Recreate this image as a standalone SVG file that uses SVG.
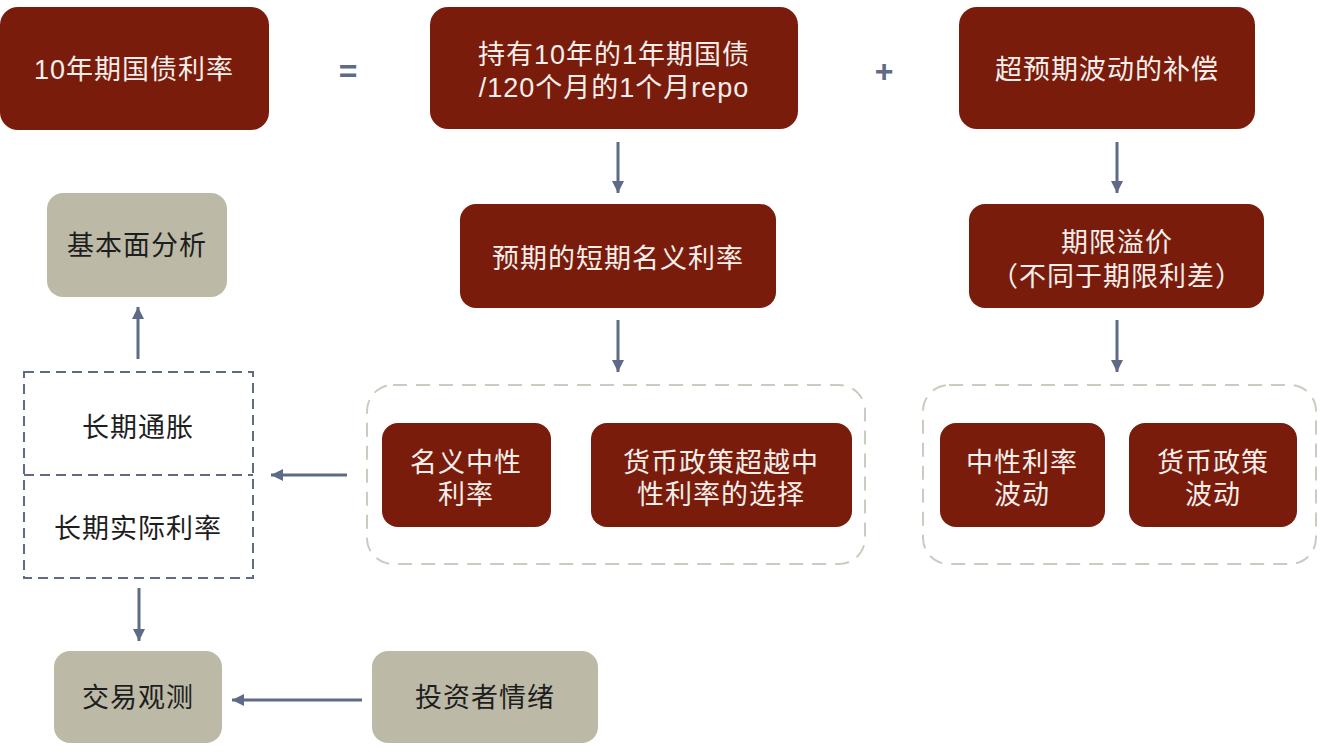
<svg xmlns="http://www.w3.org/2000/svg" width="1320" height="753" viewBox="0 0 1320 753">
<defs>
<style>
.red{fill:#7a1c0b;}
.gray{fill:#bcbaa6;}
.tw{font-family:"Liberation Sans","Noto Sans CJK SC",sans-serif;font-size:27px;fill:#f6eeea;text-anchor:middle;letter-spacing:1px;}
.tb{font-family:"Liberation Sans","Noto Sans CJK SC",sans-serif;font-size:27px;fill:#1e1e1e;text-anchor:middle;letter-spacing:1px;}
.op{font-family:"Liberation Sans",sans-serif;font-size:32px;font-weight:bold;fill:#5f6a86;text-anchor:middle;}
.conn{stroke:#5f6a86;stroke-width:3;fill:none;}
.dg{fill:none;stroke:#cbcbbf;stroke-width:2;stroke-dasharray:14 9;}
.db{fill:none;stroke:#5f6a86;stroke-width:2;stroke-dasharray:10 6;}
</style>
<marker id="ah" markerUnits="userSpaceOnUse" markerWidth="14" markerHeight="14" viewBox="0 0 14 14" refX="13" refY="7" orient="auto">
<path d="M1,1 L13,7 L1,13 Z" fill="#5f6a86"/>
</marker>
</defs>

<g id="n-10y">
<rect class="red" x="0" y="7" width="269" height="123" rx="18"/>
<text class="tw" x="134" y="79">10年期国债利率</text>
</g>
<text class="op" x="348" y="82">=</text>
<g id="n-hold">
<rect class="red" x="430" y="7" width="368" height="122" rx="18"/>
<text class="tw" x="614" y="64">持有10年的1年期国债</text>
<text class="tw" x="614" y="97">/120个月的1个月repo</text>
</g>
<text class="op" x="884" y="82">+</text>
<g id="n-comp">
<rect class="red" x="959" y="7" width="296" height="122" rx="18"/>
<text class="tw" x="1107" y="79">超预期波动的补偿</text>
</g>
<g id="n-expected">
<rect class="red" x="460" y="204" width="316" height="104" rx="16"/>
<text class="tw" x="618" y="268">预期的短期名义利率</text>
</g>
<g id="n-term">
<rect class="red" x="969" y="204" width="295" height="104" rx="16"/>
<text class="tw" x="1117" y="252">期限溢价</text>
<text class="tw" x="1117" y="286">（不同于期限利差）</text>
</g>
<g id="g-left">
<rect class="dg" x="367" y="385" width="498" height="179" rx="26"/>
</g>
<g id="g-right">
<rect class="dg" x="923" y="385" width="393" height="179" rx="26"/>
</g>
<g id="n-neutral">
<rect class="red" x="382" y="423" width="169" height="104" rx="16"/>
<text class="tw" x="466" y="472">名义中性</text>
<text class="tw" x="466" y="504">利率</text>
</g>
<g id="n-policy">
<rect class="red" x="591" y="423" width="261" height="104" rx="16"/>
<text class="tw" x="721" y="472">货币政策超越中</text>
<text class="tw" x="721" y="504">性利率的选择</text>
</g>
<g id="n-neutral-vol">
<rect class="red" x="940" y="423" width="165" height="104" rx="16"/>
<text class="tw" x="1022" y="472">中性利率</text>
<text class="tw" x="1022" y="504">波动</text>
</g>
<g id="n-policy-vol">
<rect class="red" x="1129" y="423" width="168" height="104" rx="16"/>
<text class="tw" x="1213" y="472">货币政策</text>
<text class="tw" x="1213" y="504">波动</text>
</g>
<g id="n-fund">
<rect class="gray" x="47" y="193" width="180" height="104" rx="16"/>
<text class="tb" x="137" y="255">基本面分析</text>
</g>
<g id="n-long">
<rect class="db" x="24" y="372" width="229" height="206"/>
<line class="db" x1="24" y1="475" x2="253" y2="475"/>
<text class="tb" x="138" y="437">长期通胀</text>
<text class="tb" x="138" y="538">长期实际利率</text>
</g>
<g id="n-trade">
<rect class="gray" x="54" y="651" width="168" height="92" rx="16"/>
<text class="tb" x="138" y="707">交易观测</text>
</g>
<g id="n-sent">
<rect class="gray" x="372" y="651" width="226" height="92" rx="16"/>
<text class="tb" x="485" y="707">投资者情绪</text>
</g>
<g id="connectors">
<line class="conn" x1="618" y1="142" x2="618" y2="193" marker-end="url(#ah)"/>
<line class="conn" x1="1117" y1="142" x2="1117" y2="193" marker-end="url(#ah)"/>
<line class="conn" x1="618" y1="320" x2="618" y2="372" marker-end="url(#ah)"/>
<line class="conn" x1="1117" y1="320" x2="1117" y2="372" marker-end="url(#ah)"/>
<line class="conn" x1="347" y1="475" x2="271" y2="475" marker-end="url(#ah)"/>
<line class="conn" x1="138" y1="359" x2="138" y2="307" marker-end="url(#ah)"/>
<line class="conn" x1="139" y1="588" x2="139" y2="641" marker-end="url(#ah)"/>
<line class="conn" x1="362" y1="700" x2="232" y2="700" marker-end="url(#ah)"/>
</g>
</svg>
